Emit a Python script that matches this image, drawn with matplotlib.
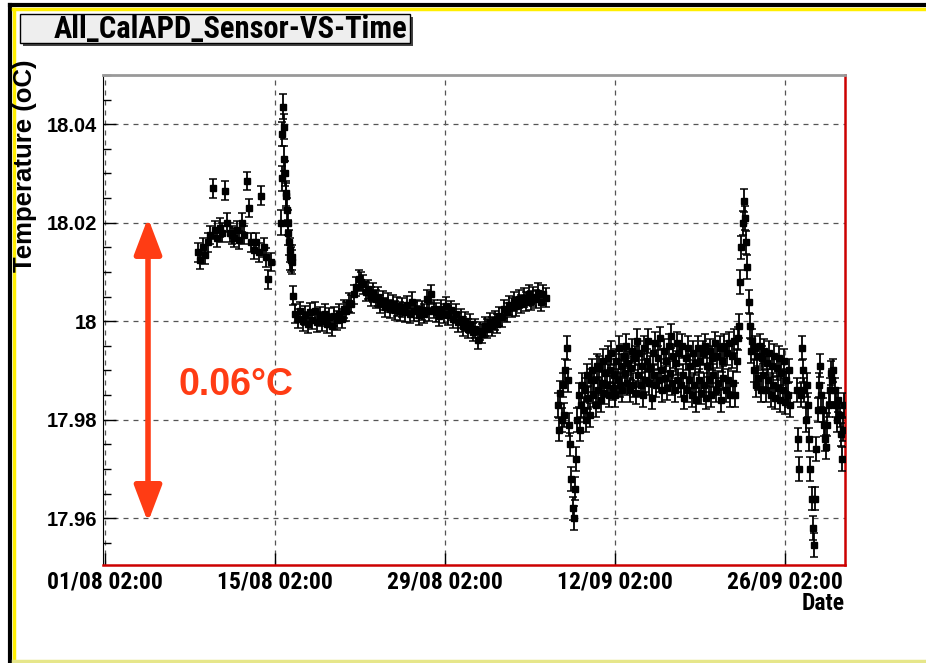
import numpy as np
import matplotlib
matplotlib.use("Agg")
import matplotlib.pyplot as plt
from matplotlib.patches import Rectangle
from matplotlib.lines import Line2D
from datetime import datetime, timedelta

# origen de tiempos: 01/08 02:00
t0 = datetime(2008, 8, 1, 2, 0)

# cada tramo: dia de inicio, paso (dias), error y temperaturas
seg_start = [7.66, 14.49, 15.48, 37.31, 56.99]
seg_step = [0.2, 0.055, 0.2, 0.1, 0.1]
seg_err = [0.0019, 0.0025, 0.0019, 0.0024, 0.0024]

temp1 = [18.0140, 18.0125, 18.0150, 18.0135, 18.0160, 18.0175, 18.0270, 18.0185,
         18.0170, 18.0190, 18.0180, 18.0265, 18.0200, 18.0180, 18.0175, 18.0170,
         18.0185, 18.0165, 18.0200, 18.0175, 18.0285, 18.0230, 18.0160, 18.0145,
         18.0160, 18.0140, 18.0255, 18.0150, 18.0130, 18.0085, 18.0120]

temp2 = [18.0200, 18.0290, 18.0380, 18.0436, 18.0395, 18.0330, 18.0300, 18.0260,
         18.0255, 18.0225, 18.0200, 18.0180, 18.0160, 18.0145, 18.0130, 18.0125,
         18.0130, 18.0120]

temp3 = [18.0052, 18.0015, 18.0005, 18.0020, 18.0000, 18.0012, 17.9995, 18.0018,
         18.0003, 18.0020, 17.9998, 18.0010, 18.0000, 18.0015, 17.9995, 18.0008,
         17.9990, 18.0010, 18.0002, 18.0015, 18.0005, 18.0025, 18.0020, 18.0038,
         18.0035, 18.0055, 18.0070, 18.0085, 18.0080, 18.0075, 18.0060, 18.0065,
         18.0050, 18.0058, 18.0045, 18.0050, 18.0035, 18.0042, 18.0028, 18.0038,
         18.0025, 18.0035, 18.0022, 18.0030, 18.0020, 18.0028, 18.0018, 18.0032,
         18.0015, 18.0040, 18.0020, 18.0025, 18.0012, 18.0022, 18.0015, 18.0045,
         18.0020, 18.0055, 18.0025, 18.0018, 18.0010, 18.0025, 18.0015, 18.0030,
         18.0012, 18.0022, 18.0005, 18.0015, 17.9998, 18.0005, 17.9990, 18.0000,
         17.9985, 17.9995, 17.9978, 17.9985, 17.9962, 17.9980, 17.9975, 17.9990,
         17.9985, 17.9998, 17.9990, 18.0002, 17.9995, 18.0010, 18.0008, 18.0025,
         18.0018, 18.0032, 18.0028, 18.0040, 18.0030, 18.0045, 18.0035, 18.0048,
         18.0040, 18.0055, 18.0042, 18.0050, 18.0045, 18.0058, 18.0040, 18.0055,
         18.0048]

temp4 = [17.9830, 17.9780, 17.9855, 17.9800, 17.9870, 17.9810, 17.9900, 17.9945, 17.9880, 17.9790,
         17.9750, 17.9680, 17.9620, 17.9600, 17.9660, 17.9720, 17.9800, 17.9850, 17.9780, 17.9830,
         17.9870, 17.9820, 17.9860, 17.9800, 17.9890, 17.9845, 17.9810, 17.9880, 17.9900, 17.9850,
         17.9880, 17.9830, 17.9910, 17.9860, 17.9905, 17.9840, 17.9875, 17.9920, 17.9855, 17.9895,
         17.9870, 17.9925, 17.9850, 17.9900, 17.9935, 17.9865, 17.9890, 17.9850, 17.9920, 17.9880,
         17.9945, 17.9870, 17.9910, 17.9860, 17.9930, 17.9895, 17.9950, 17.9875, 17.9915, 17.9860,
         17.9905, 17.9940, 17.9870, 17.9925, 17.9855, 17.9960, 17.9890, 17.9935, 17.9870, 17.9910,
         17.9850, 17.9945, 17.9880, 17.9920, 17.9960, 17.9875, 17.9905, 17.9845, 17.9935, 17.9890,
         17.9955, 17.9870, 17.9925, 17.9880, 17.9965, 17.9900, 17.9860, 17.9940, 17.9885, 17.9920,
         17.9865, 17.9950, 17.9895, 17.9970, 17.9875, 17.9930, 17.9860, 17.9915, 17.9955, 17.9880,
         17.9935, 17.9870, 17.9950, 17.9890, 17.9845, 17.9925, 17.9860, 17.9945, 17.9880, 17.9910,
         17.9850, 17.9935, 17.9870, 17.9915, 17.9840, 17.9945, 17.9880, 17.9920, 17.9855, 17.9935,
         17.9870, 17.9950, 17.9845, 17.9910, 17.9880, 17.9940, 17.9850, 17.9925, 17.9890, 17.9955,
         17.9860, 17.9930, 17.9875, 17.9945, 17.9840, 17.9920, 17.9885, 17.9950, 17.9860, 17.9935,
         17.9880, 17.9955, 17.9850, 17.9930, 17.9875, 17.9960, 17.9850, 17.9920, 17.9965, 17.9990,
         18.0080, 18.0150, 18.0200, 18.0245, 18.0210, 18.0160, 18.0110, 18.0040, 17.9990, 17.9940,
         17.9960, 17.9900, 17.9945, 17.9870, 17.9930, 17.9885, 17.9950, 17.9860, 17.9925, 17.9890,
         17.9940, 17.9860, 17.9915, 17.9880, 17.9935, 17.9850, 17.9910, 17.9870, 17.9930, 17.9845,
         17.9905, 17.9865, 17.9925, 17.9840, 17.9895, 17.9860, 17.9920, 17.9835, 17.9880, 17.9850,
         17.9900, 17.9830]

temp5 = [17.9860, 17.9760, 17.9700, 17.9850, 17.9945, 17.9900, 17.9860, 17.9800, 17.9870, 17.9830,
         17.9760, 17.9700, 17.9640, 17.9580, 17.9545, 17.9640, 17.9740, 17.9820, 17.9870, 17.9910,
         17.9850, 17.9820, 17.9790, 17.9760, 17.9745, 17.9790, 17.9830, 17.9860, 17.9895, 17.9880,
         17.9900, 17.9860, 17.9830, 17.9800, 17.9840, 17.9810, 17.9770, 17.9720, 17.9780, 17.9830]

tick_labels = ["01/08 02:00", "15/08 02:00", "29/08 02:00", "12/09 02:00", "26/09 02:00"]

naranja = '#ff3c14'
estrecha = ['Roboto Condensed', 'DejaVu Sans']
normal = ['Liberation Sans', 'DejaVu Sans']

fig = plt.figure(figsize=(9.26, 6.63), dpi=100)
fig.patch.set_facecolor('white')
ax = fig.add_axes([103/926, 1-565/663, 742/926, 490/663])

#Dibujamos cada tramo con sus barras de error
for start, step, err, temps in zip(seg_start, seg_step, seg_err, [temp1, temp2, temp3, temp4, temp5]):
    dias = start + step*np.arange(len(temps))
    fechas = [t0 + timedelta(days=float(d)) for d in dias]
    ax.errorbar(fechas, temps, yerr=err, fmt='s', color='black', ms=5.0,
                elinewidth=1.3, capsize=2.6, capthick=1.1, zorder=3)

ax.set_xlim(t0 - timedelta(hours=4), t0 + timedelta(days=60.94))
ax.set_ylim(17.9505, 18.0497)

ticks = [t0 + timedelta(days=14*i) for i in range(5)]
ax.set_xticks(ticks)
ax.set_xticklabels(tick_labels, fontfamily=estrecha, fontweight='bold', fontsize=17)
ax.set_yticks([17.96, 17.98, 18.0, 18.02, 18.04])
ax.set_yticklabels(['17.96', '17.98', '18', '18.02', '18.04'], fontfamily=normal,
                   fontweight='bold', fontsize=14.5)
ax.set_yticks(np.arange(17.955, 18.05, 0.005), minor=True)

ax.tick_params(axis='both', which='major', direction='in', length=9, width=1, pad=4)
ax.tick_params(axis='y', which='minor', direction='in', length=6, width=1)
ax.tick_params(axis='x', which='major', pad=4)

ax.grid(True, which='major', color='#555555', linestyle=(0, (4, 4)), linewidth=0.9)

ax.spines['left'].set_color('black')
ax.spines['top'].set_color('#999999')
ax.spines['top'].set_linewidth(2)
ax.spines['bottom'].set_color('#cc0000')
ax.spines['bottom'].set_linewidth(1.8)
ax.spines['right'].set_color('#cc0000')
ax.spines['right'].set_linewidth(1.8)

#Flecha de 0.06 grados
x_flecha = t0 + timedelta(days=3.54)
ax.annotate('', xy=(x_flecha, 17.9592), xytext=(x_flecha, 18.0210),
            arrowprops=dict(arrowstyle='<|-|>,head_length=1.0,head_width=0.38',
                            color=naranja, lw=4, mutation_scale=22,
                            shrinkA=0, shrinkB=0), zorder=4)
fig.text(178/926, 1-385/663, '0.06\u00b0C', color=naranja, fontfamily=normal,
         fontweight='bold', fontsize=27, ha='left', va='center')

#Titulo en caja
fig.patches.append(Rectangle((23/926, 1-46/663), 390/926, 29/663, transform=fig.transFigure,
                             facecolor='#444444', edgecolor='none', zorder=1))
fig.patches.append(Rectangle((20/926, 1-43/663), 390/926, 29/663, transform=fig.transFigure,
                             facecolor='#eeeeee', edgecolor='black', lw=1, zorder=2))
fig.text(407/926, 1-29/663, 'All_CalAPD_Sensor-VS-Time', fontfamily=estrecha,
         fontweight='bold', fontsize=22, ha='right', va='center', zorder=3)

fig.text(25/926, 1-60/663, 'Temperature (oC)', rotation=90, fontfamily=normal,
         fontweight='bold', fontsize=18.5, ha='center', va='top')
fig.text(845/926, 1-604/663, 'Date', fontfamily=estrecha, fontweight='bold',
         fontsize=17, ha='right', va='center')

#Marco exterior (negro y amarillo)
fig.lines.append(Line2D([10/926, 1], [1-5/663, 1-5/663], transform=fig.transFigure,
                        color='black', lw=3))
fig.lines.append(Line2D([10/926, 10/926], [0, 1-5/663], transform=fig.transFigure,
                        color='black', lw=3))
fig.lines.append(Line2D([13/926, 1], [1-9/663, 1-9/663], transform=fig.transFigure,
                        color='#ffee00', lw=2.5))
fig.lines.append(Line2D([13.5/926, 13.5/926], [2/663, 1-9/663], transform=fig.transFigure,
                        color='#ffee00', lw=2.5))
fig.lines.append(Line2D([13/926, 1], [2/663, 2/663], transform=fig.transFigure,
                        color='#e6e68a', lw=2.5))

plt.savefig('out.png', dpi=100)
